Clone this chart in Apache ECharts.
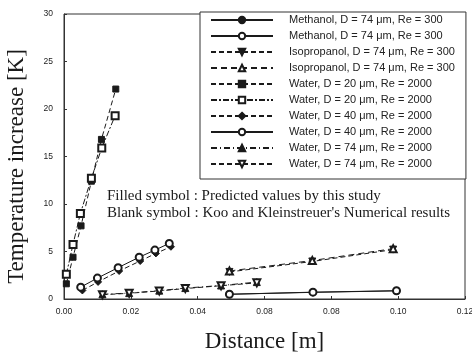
<!DOCTYPE html>
<html>
<head>
<meta charset="utf-8">
<script src="https://cdn.jsdelivr.net/npm/echarts@6/dist/echarts.min.js"></script>
<style>
  html, body { margin: 0; padding: 0; background: #fff; }
  #chart { width: 472px; height: 356px; }
</style>
</head>
<body>
<div id="chart"></div>
<script>
// tick labels as printed on the scan (0.08 appears twice)
const xTickLabels = ['0.00', '0.02', '0.04', '0.08', '0.08', '0.10', '0.12'];
const yTickLabels = ['0', '5', '10', '15', '20', '25', '30'];

const legendLabels = [
  'Methanol, D = 74 μm, Re = 300',
  'Methanol, D = 74 μm, Re = 300',
  'Isopropanol, D = 74 μm, Re = 300',
  'Isopropanol, D = 74 μm, Re = 300',
  'Water, D = 20 μm, Re = 2000',
  'Water, D = 20 μm, Re = 2000',
  'Water, D = 40 μm, Re = 2000',
  'Water, D = 40 μm, Re = 2000',
  'Water, D = 74 μm, Re = 2000',
  'Water, D = 74 μm, Re = 2000'
];

// distance [m] / temperature increase [K]
const methanolX = [0.0495, 0.0745, 0.0995];
const methanolPred = [0.5, 0.7, 0.86];
const methanolKoo = [0.5, 0.72, 0.87];

const isoX = [0.0495, 0.0743, 0.0985];
const isoPred = [2.85, 3.95, 5.2];
const isoKoo = [2.95, 4.05, 5.3];

const water20X = [0.0007, 0.0027, 0.0051, 0.0082, 0.0112, 0.0155];
const water20Pred = [1.6, 4.4, 7.7, 12.4, 16.8, 22.1];
const water20KooX = [0.0007, 0.0027, 0.0049, 0.0082, 0.0113, 0.0153];
const water20Koo = [2.6, 5.75, 9.0, 12.7, 15.9, 19.3];

const water40X = [0.0055, 0.0102, 0.0165, 0.0228, 0.0275, 0.032];
const water40Pred = [0.9, 1.8, 2.95, 4.0, 4.8, 5.5];
const water40KooX = [0.005, 0.010, 0.0162, 0.0225, 0.0272, 0.0315];
const water40Koo = [1.25, 2.2, 3.3, 4.4, 5.15, 5.85];

const water74X = [0.0115, 0.0195, 0.0285, 0.0363, 0.047, 0.0577];
const water74Pred = [0.5, 0.62, 0.88, 1.15, 1.42, 1.78];
const water74Koo = [0.45, 0.6, 0.85, 1.1, 1.4, 1.7];

const ink = '#1a1a1a';

function pairs(xs, ys) {
  return xs.map((x, i) => [x, ys[i]]);
}

function makeSeries(idx, xs, ys, symbol, dash, rotate) {
  return {
    name: 's' + idx,
    type: 'line',
    data: pairs(xs, ys),
    symbol: symbol,
    symbolSize: symbol.indexOf('rect') >= 0 ? 6 : 7,
    symbolRotate: rotate || 0,
    showAllSymbol: true,
    animation: false,
    z: idx % 2 === 0 ? 2 : 3,
    lineStyle: { color: ink, width: 1, type: dash },
    itemStyle: { color: ink, borderColor: ink, borderWidth: 1 }
  };
}

const seriesList = [
  makeSeries(0, methanolX, methanolPred, 'circle', 'solid'),
  makeSeries(1, methanolX, methanolKoo, 'emptyCircle', 'solid'),
  makeSeries(2, isoX, isoPred, 'triangle', [5, 3], 180),
  makeSeries(3, isoX, isoKoo, 'emptyTriangle', [6, 4]),
  makeSeries(4, water20X, water20Pred, 'rect', [5, 3]),
  makeSeries(5, water20KooX, water20Koo, 'emptyRect', [6, 2, 2, 2]),
  makeSeries(6, water40X, water40Pred, 'diamond', [5, 3]),
  makeSeries(7, water40KooX, water40Koo, 'emptyCircle', 'solid'),
  makeSeries(8, water74X, water74Pred, 'triangle', [6, 3, 1, 3]),
  makeSeries(9, water74X, water74Koo, 'emptyTriangle', [5, 3], 180)
];

const chart = echarts.init(document.getElementById('chart'));

chart.setOption({
  backgroundColor: '#fff',
  animation: false,
  grid: {
    left: 64, right: 7, top: 14, bottom: 57,
    outerBoundsMode: 'none',
    containLabel: false,
    show: true, borderColor: '#333', borderWidth: 1
  },
  xAxis: {
    type: 'value',
    min: 0, max: 0.12, interval: 0.02,
    name: 'Distance [m]',
    nameLocation: 'middle',
    nameGap: 31,
    nameTextStyle: { fontFamily: 'Liberation Serif', fontSize: 23, color: ink },
    axisLine: { lineStyle: { color: '#333' } },
    axisTick: { inside: true, length: 3, lineStyle: { color: '#333' } },
    splitLine: { show: false },
    axisLabel: {
      margin: 8,
      fontFamily: 'Liberation Sans', fontSize: 8.5, color: '#222',
      formatter: (v) => xTickLabels[Math.round(v / 0.02)]
    }
  },
  yAxis: {
    type: 'value',
    min: 0, max: 30, interval: 5,
    name: 'Temperature increase [K]',
    nameLocation: 'middle',
    nameGap: 36,
    nameTextStyle: {
      fontFamily: 'Liberation Serif', fontSize: 23, color: ink,
      padding: [0, 20, 0, 0]
    },
    axisLine: { show: true, lineStyle: { color: '#333' } },
    axisTick: { show: true, inside: true, length: 3, lineStyle: { color: '#333' } },
    splitLine: { show: false },
    axisLabel: {
      margin: 11,
      fontFamily: 'Liberation Sans', fontSize: 8.5, color: '#222',
      formatter: (v) => yTickLabels[Math.round(v / 5)]
    }
  },
  legend: {
    orient: 'vertical',
    left: 200, top: 12,
    padding: [2, 11, 9, 10],
    itemWidth: 62, itemHeight: 8,
    itemGap: 4,
    backgroundColor: '#fff',
    borderColor: '#333', borderWidth: 1, borderRadius: 0,
    data: seriesList.map(s => s.name),
    formatter: (name) => legendLabels[parseInt(name.slice(1), 10)],
    textStyle: {
      fontFamily: 'Liberation Sans', fontSize: 11, color: '#222',
      lineHeight: 12,
      padding: [0, 0, 0, 11]
    }
  },
  graphic: [
    {
      type: 'text', left: 107, top: 189,
      style: {
        text: 'Filled symbol : Predicted values by this study',
        font: '15px "Liberation Serif"', fill: ink
      }
    },
    {
      type: 'text', left: 107, top: 206,
      style: {
        text: "Blank symbol : Koo and Kleinstreuer's Numerical results",
        font: '15px "Liberation Serif"', fill: ink
      }
    }
  ],
  series: seriesList
});
</script>
</body>
</html>
